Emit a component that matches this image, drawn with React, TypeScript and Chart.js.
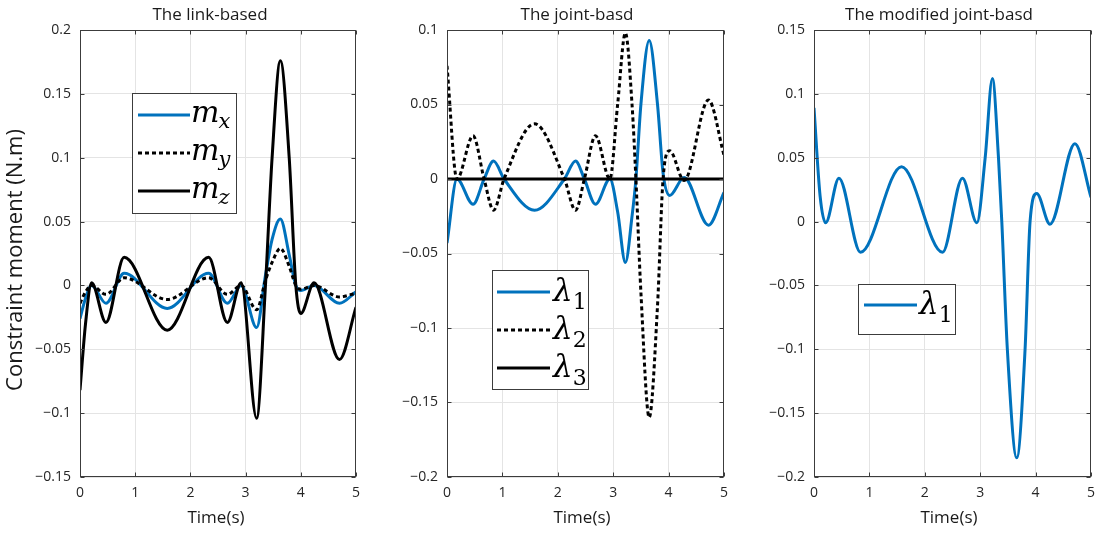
import React, { useEffect, useRef } from "react";
import { Chart, registerables } from "chart.js";

Chart.register(...registerables);

// ---------------- data ----------------
const TITLES = ["The link-based", "The joint-basd", "The modified joint-basd"];
const Y_LABEL = "Constraint moment (N.m)";
const X_LABEL = "Time(s)";
const X_TICKS = [0, 1, 2, 3, 4, 5];
const Y_TICKS_LINK = [-0.15, -0.1, -0.05, 0, 0.05, 0.1, 0.15, 0.2];
const Y_TICKS_JOINT = [-0.2, -0.15, -0.1, -0.05, 0, 0.05, 0.1];
const Y_TICKS_MOD = [-0.2, -0.15, -0.1, -0.05, 0, 0.05, 0.1, 0.15];

const LEGEND_LINK = ["m_x", "m_y", "m_z"];
const LEGEND_JOINT = ["λ_1", "λ_2", "λ_3"];
const LEGEND_MOD = ["λ_1"];

// panel 1 : link-based
const TIME_LINK = [0, 0.1, 0.21, 0.47, 0.8, 1.58, 2.33, 2.67, 2.92, 3.2, 3.36, 3.48, 3.63, 3.79, 3.91, 4.0, 4.24, 4.7, 5];
const MX = [-0.026, -0.01, 0.0, -0.014, 0.0095, -0.018, 0.0095, -0.014, 0.0, -0.033, 0.008, 0.036, 0.052, 0.024, 0.0, -0.004, 0.0, -0.014, -0.005];
const MY = [-0.014, -0.005, 0.0, -0.007, 0.006, -0.011, 0.006, -0.007, 0.0, -0.019, 0.004, 0.018, 0.029, 0.015, 0.0, -0.003, 0.0, -0.009, -0.006];
const MZ = [-0.082, -0.03, 0.002, -0.029, 0.022, -0.035, 0.022, -0.029, 0.002, -0.104, 0.0, 0.1, 0.176, 0.1, 0.0, -0.022, 0.002, -0.058, -0.017];

// panel 2 : joint-based
const TIME_JOINT = [0, 0.18, 0.47, 0.67, 0.84, 1.03, 1.58, 2.12, 2.32, 2.48, 2.68, 2.94, 3.08, 3.22, 3.34, 3.41, 3.5, 3.65, 3.8, 3.9, 4.02, 4.28, 4.72, 5];
const L1_JOINT = [-0.043, 0, -0.017, 0, 0.012, 0, -0.021, 0, 0.012, 0, -0.017, 0, -0.022, -0.056, -0.025, 0, 0.05, 0.093, 0.05, 0.004, -0.011, 0.001, -0.031, -0.009];
const L2_JOINT = [0.076, 0, 0.029, 0, -0.021, 0, 0.037, 0, -0.021, 0, 0.029, 0, 0.05, 0.098, 0.05, 0, -0.076, -0.16, -0.085, 0, 0.019, -0.001, 0.053, 0.016];
const TIME_L3 = [0, 5];
const L3_JOINT = [0, 0];

// panel 3 : modified joint-based
const TIME_MOD = [0, 0.11, 0.21, 0.45, 0.84, 1.58, 2.32, 2.68, 2.94, 3.09, 3.22, 3.33, 3.39, 3.49, 3.66, 3.81, 3.9, 4.02, 4.26, 4.71, 5];
const L1_MOD = [0.089, 0.02, -0.001, 0.034, -0.024, 0.043, -0.024, 0.034, -0.001, 0.05, 0.112, 0.05, 0, -0.1, -0.185, -0.1, 0, 0.022, -0.002, 0.061, 0.019];

// ---------------- style ----------------
const BLUE = "#0072BD";
const BLACK = "#000000";
const FONT = '"Open Sans", sans-serif';
const MATH_FONT = '"DejaVu Serif", serif';
const DOT = [4, 3];

const pts = (t: number[], v: number[]) => t.map((x, i) => ({ x, y: v[i] }));
const fmt = (v: number) => {
  const r = Math.round(v * 1000) / 1000;
  return r < 0 ? "\u2212" + String(-r) : String(r);
};

const line = (label: string, t: number[], v: number[], color: string, dash: number[] | undefined, order: number) => ({
  label,
  data: pts(t, v),
  borderColor: color,
  backgroundColor: color,
  borderWidth: 3,
  borderDash: dash || [],
  pointRadius: 0,
  cubicInterpolationMode: "monotone",
  fill: false,
  order,
});

type LegendItem = { text: string; color: string; dash?: number[] };

const decor = {
  id: "decor",
  afterDraw(chart: any, _a: any, o: any) {
    const ctx = chart.ctx;
    const ca = chart.chartArea;
    const xs = chart.scales.x;
    const ys = chart.scales.y;
    ctx.save();
    // box
    ctx.strokeStyle = "#3c3c3c";
    ctx.lineWidth = 1;
    ctx.setLineDash([]);
    const L = Math.round(ca.left) + 0.5, R = Math.round(ca.right) - 0.5;
    const T = Math.round(ca.top) + 0.5, B = Math.round(ca.bottom) - 0.5;
    ctx.strokeRect(L, T, R - L, B - T);
    // inner ticks
    ctx.beginPath();
    X_TICKS.forEach((v) => {
      const p = Math.round(xs.getPixelForValue(v)) + 0.5;
      ctx.moveTo(p, B); ctx.lineTo(p, B - 4);
      ctx.moveTo(p, T); ctx.lineTo(p, T + 4);
    });
    o.yTicks.forEach((v: number) => {
      const p = Math.round(ys.getPixelForValue(v)) + 0.5;
      ctx.moveTo(L, p); ctx.lineTo(L + 4, p);
      ctx.moveTo(R, p); ctx.lineTo(R - 4, p);
    });
    ctx.stroke();
    // title
    ctx.fillStyle = "#1a1a1a";
    ctx.textAlign = "center";
    ctx.textBaseline = "middle";
    ctx.font = `17px ${FONT}`;
    ctx.fillText(o.title, o.titleX, 15);
    // x label
    ctx.font = `17px ${FONT}`;
    ctx.fillText(X_LABEL, o.xLabelX, 518);
    // y label
    if (o.yLabel) {
      ctx.save();
      ctx.translate(16, 260);
      ctx.rotate(-Math.PI / 2);
      ctx.font = `22px ${FONT}`;
      ctx.fillText(o.yLabel, 0, 0);
      ctx.restore();
    }
    // legend
    const lg = o.legend;
    ctx.fillStyle = "#ffffff";
    ctx.fillRect(lg.x, lg.y, lg.w, lg.h);
    ctx.strokeStyle = "#3c3c3c";
    ctx.lineWidth = 1;
    ctx.strokeRect(lg.x + 0.5, lg.y + 0.5, lg.w, lg.h);
    lg.items.forEach((it: LegendItem, i: number) => {
      const y = lg.rows[i];
      ctx.beginPath();
      ctx.strokeStyle = it.color;
      ctx.lineWidth = 3;
      ctx.setLineDash(it.dash || []);
      ctx.moveTo(lg.lx0, y);
      ctx.lineTo(lg.lx1, y);
      ctx.stroke();
      ctx.setLineDash([]);
      const [main, sub] = it.text.split("_");
      const isLambda = main === "λ";
      ctx.fillStyle = "#000";
      ctx.textAlign = "left";
      ctx.textBaseline = "alphabetic";
      ctx.font = isLambda ? `italic 31px ${MATH_FONT}` : `italic 30px ${MATH_FONT}`;
      ctx.fillText(main, lg.tx, y + (isLambda ? 9 : 7));
      const w = ctx.measureText(main).width;
      ctx.font = isLambda ? `22px ${MATH_FONT}` : `italic 21px ${MATH_FONT}`;
      ctx.fillText(sub, lg.tx + w + (isLambda ? 0 : -1), y + (isLambda ? 17 : 13));
    });
    ctx.restore();
  },
};

type PanelCfg = {
  left: number;
  width: number;
  axisWidth: number;
  padRight: number;
  yTicks: number[];
  datasets: any[];
  decor: any;
};

const PANELS: PanelCfg[] = [
  {
    left: 0, width: 368, axisWidth: 80, padRight: 8, yTicks: Y_TICKS_LINK,
    datasets: [
      line(LEGEND_LINK[0], TIME_LINK, MX, BLUE, undefined, 3),
      line(LEGEND_LINK[1], TIME_LINK, MY, BLACK, DOT, 2),
      line(LEGEND_LINK[2], TIME_LINK, MZ, BLACK, undefined, 1),
    ],
    decor: {
      title: TITLES[0], titleX: 210, xLabelX: 216, yLabel: Y_LABEL, yTicks: Y_TICKS_LINK,
      legend: {
        x: 132, y: 93, w: 104, h: 120, lx0: 138, lx1: 190, tx: 191, rows: [115, 153, 191],
        items: [
          { text: LEGEND_LINK[0], color: BLUE },
          { text: LEGEND_LINK[1], color: BLACK, dash: DOT },
          { text: LEGEND_LINK[2], color: BLACK },
        ],
      },
    },
  },
  {
    left: 368, width: 368, axisWidth: 79, padRight: 11, yTicks: Y_TICKS_JOINT,
    datasets: [
      line(LEGEND_JOINT[0], TIME_JOINT, L1_JOINT, BLUE, undefined, 3),
      line(LEGEND_JOINT[1], TIME_JOINT, L2_JOINT, BLACK, DOT, 2),
      line(LEGEND_JOINT[2], TIME_L3, L3_JOINT, BLACK, undefined, 1),
    ],
    decor: {
      title: TITLES[1], titleX: 209, xLabelX: 214, yLabel: null, yTicks: Y_TICKS_JOINT,
      legend: {
        x: 124, y: 270, w: 96, h: 119, lx0: 129, lx1: 182, tx: 185, rows: [292, 330, 368],
        items: [
          { text: LEGEND_JOINT[0], color: BLUE },
          { text: LEGEND_JOINT[1], color: BLACK, dash: DOT },
          { text: LEGEND_JOINT[2], color: BLACK },
        ],
      },
    },
  },
  {
    left: 736, width: 367, axisWidth: 78, padRight: 11, yTicks: Y_TICKS_MOD,
    datasets: [line(LEGEND_MOD[0], TIME_MOD, L1_MOD, BLUE, undefined, 1)],
    decor: {
      title: TITLES[2], titleX: 203, xLabelX: 213, yLabel: null, yTicks: Y_TICKS_MOD,
      legend: {
        x: 122, y: 284, w: 97, h: 50, lx0: 128, lx1: 181, tx: 183, rows: [305],
        items: [{ text: LEGEND_MOD[0], color: BLUE }],
      },
    },
  },
];

function makeChart(canvas: HTMLCanvasElement, p: PanelCfg) {
  const yMin = p.yTicks[0];
  const yMax = p.yTicks[p.yTicks.length - 1];
  return new Chart(canvas, {
    type: "line",
    data: { datasets: p.datasets },
    plugins: [decor],
    options: {
      responsive: false,
      animation: false,
      events: [],
      layout: { padding: { top: 30, right: p.padRight, left: 0, bottom: 0 } },
      plugins: {
        legend: { display: false },
        title: { display: false },
        tooltip: { enabled: false },
        decor: p.decor,
      } as any,
      scales: {
        x: {
          type: "linear",
          min: 0,
          max: 5,
          afterBuildTicks: (s: any) => { s.ticks = X_TICKS.map((v) => ({ value: v })); },
          afterFit: (s: any) => { s.height = 56; },
          ticks: {
            padding: 8,
            color: "#262626",
            font: { family: FONT, size: 14 },
            callback: (v: any) => fmt(Number(v)),
            maxRotation: 0,
          },
          grid: { color: "#e4e4e4", lineWidth: 1, drawTicks: false },
          border: { display: false },
        },
        y: {
          type: "linear",
          min: yMin,
          max: yMax,
          afterBuildTicks: (s: any) => { s.ticks = p.yTicks.map((v) => ({ value: v })); },
          afterFit: (s: any) => { s.width = p.axisWidth; },
          ticks: {
            padding: 9,
            color: "#262626",
            font: { family: FONT, size: 14 },
            callback: (v: any) => fmt(Number(v)),
          },
          grid: { color: "#e4e4e4", lineWidth: 1, drawTicks: false },
          border: { display: false },
        },
      },
    } as any,
  });
}

export default function App() {
  const refs = [useRef<HTMLCanvasElement>(null), useRef<HTMLCanvasElement>(null), useRef<HTMLCanvasElement>(null)];
  useEffect(() => {
    const charts = PANELS.map((p, i) => makeChart(refs[i].current as HTMLCanvasElement, p));
    return () => charts.forEach((c) => c.destroy());
  }, []);
  return (
    <div style={{ position: "fixed", left: 0, top: 0, width: 1103, height: 533, background: "#ffffff", overflow: "hidden" }}>
      {PANELS.map((p, i) => (
        <canvas
          key={i}
          ref={refs[i]}
          width={p.width}
          height={533}
          style={{ position: "absolute", left: p.left, top: 0, width: p.width, height: 533 }}
        />
      ))}
    </div>
  );
}
